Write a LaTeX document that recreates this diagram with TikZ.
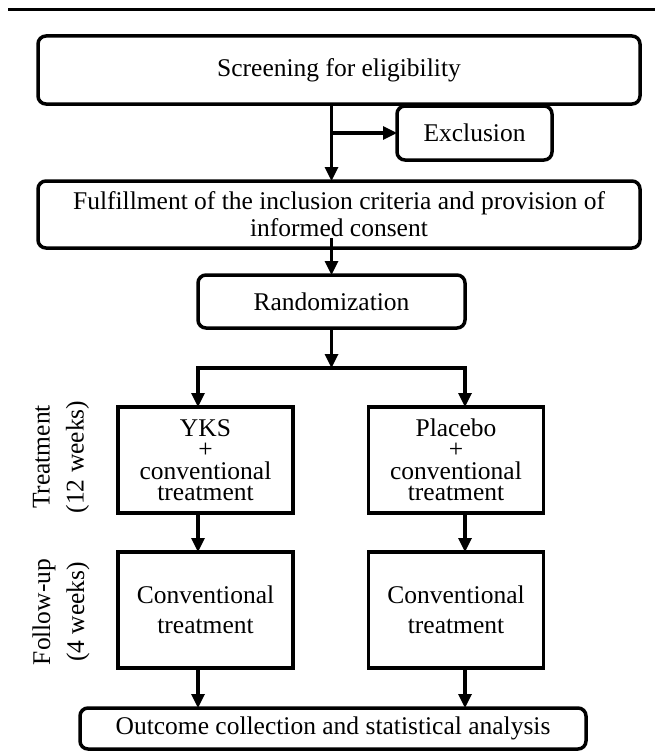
\documentclass[tikz,border=0pt]{standalone}
\usepackage{fontspec}
\setmainfont{Liberation Serif}
\usepackage{tikz}
\usetikzlibrary{calc}
\usetikzlibrary{arrows.meta}
\usetikzlibrary{positioning}
\newcommand{\txt}[1]{\fontsize{25.5}{#1}\selectfont}
\tikzset{rbox/.style={draw,rounded corners=8pt,line width=3.5pt,align=center,inner sep=0pt,outer sep=0pt,font=\txt{27}}}
\tikzset{sbox/.style={draw,line width=3.5pt,align=center,inner sep=0pt,outer sep=0pt}}
\tikzset{flow/.style={line width=3.2pt,-{Triangle[length=14pt,width=13pt]}}}

\begin{document}
\begin{tikzpicture}[x=1pt,y=-1pt]
\useasboundingbox (0,0) rectangle (655,752);

\draw[line width=3pt] (8,10) -- (655,10);

\node[rbox,minimum width=602pt,minimum height=68pt] (screen) at (339,70) {Screening for eligibility};
\node[rbox,minimum width=155pt,minimum height=54pt] (excl) at (474.5,133) {Exclusion};
\node[rbox,minimum width=602pt,minimum height=67pt] (fulfil) at (339,214.5)
  {Fulfillment of the inclusion criteria and provision of\\informed consent};
\node[rbox,minimum width=267pt,minimum height=53pt] (rand) at (331.5,301.5) {Randomization};
\coordinate (split) at (331.5,368);

\node[sbox,minimum width=175pt,minimum height=106pt,font=\txt{21.5}] (yks) at (205.5,460)
  {YKS\\+\\conventional\\treatment};
\node[sbox,minimum width=175pt,minimum height=106pt,font=\txt{21.5}] (plac) at (456,460)
  {Placebo\\+\\conventional\\treatment};
\node[sbox,minimum width=175pt,minimum height=116pt,font=\txt{30}] (fu1) at (205.5,610)
  {Conventional\\treatment};
\node[sbox,minimum width=175pt,minimum height=116pt,font=\txt{30}] (fu2) at (456,610)
  {Conventional\\treatment};
\node[rbox,minimum width=506pt,minimum height=41pt] (outc) at (333,728.5)
  {Outcome collection and statistical analysis};

% phase labels
\node[rotate=90,align=center,font=\txt{34}] (lblT) at (61,457) {Treatment\\(12 weeks)};
\node[rotate=90,align=center,font=\txt{34}] (lblF) at (61,612) {Follow-up\\(4 weeks)};

\draw[flow] (screen.south -| rand.north) -- (fulfil.north -| rand.north);
\draw[flow] (excl.west -| rand.north) -- (excl.west);
\draw[flow,shorten <=-10pt] (fulfil.south -| rand.north) -- (rand.north);
\draw[flow] (rand.south) -- (split);
\draw[flow] (split) -| (yks.north -| rand.west);
\draw[flow] (split) -| (plac.north -| rand.east);
\draw[flow] (yks.south -| rand.west) -- (fu1.north -| rand.west);
\draw[flow] (plac.south -| rand.east) -- (fu2.north -| rand.east);
\draw[flow] (fu1.south -| rand.west) -- (outc.north -| rand.west);
\draw[flow] (fu2.south -| rand.east) -- (outc.north -| rand.east);

\end{tikzpicture}
\end{document}
